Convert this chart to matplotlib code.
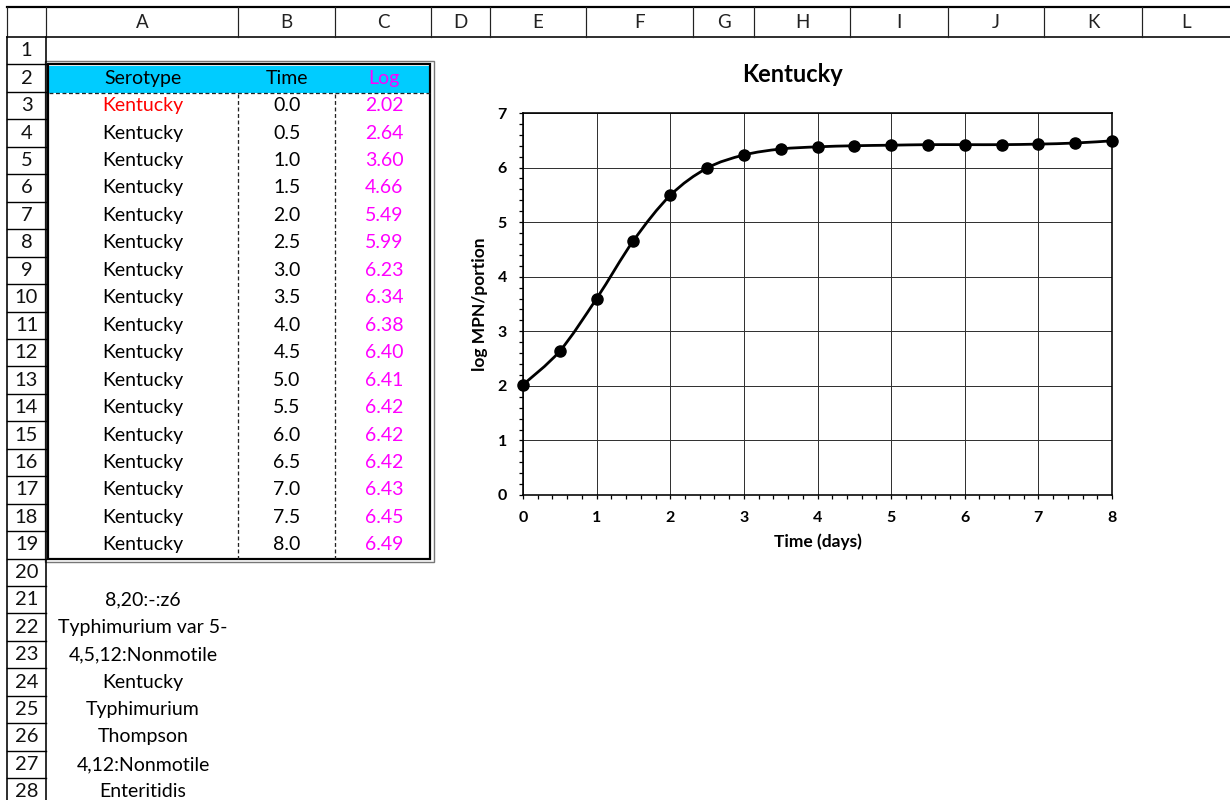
import matplotlib
matplotlib.use("Agg")
import matplotlib.pyplot as plt
from matplotlib.path import Path
from matplotlib.patches import PathPatch, Rectangle
from matplotlib.ticker import MultipleLocator

# ---- dati ----
col_letters = ["A", "B", "C", "D", "E", "F", "G", "H", "I", "J", "K", "L"]
col_edges = [7, 46, 238, 335, 431, 490, 586, 693, 754, 850, 948, 1044, 1142, 1240]
header_labels = ["Serotype", "Time", "Log"]
serotype = ["Kentucky"] * 17
time_days = [0.0, 0.5, 1.0, 1.5, 2.0, 2.5, 3.0, 3.5, 4.0, 4.5, 5.0, 5.5, 6.0, 6.5, 7.0, 7.5, 8.0]
log_mpn = [2.02, 2.64, 3.60, 4.66, 5.49, 5.99, 6.23, 6.34, 6.38, 6.40, 6.41, 6.42, 6.42, 6.42, 6.43, 6.45, 6.49]
other_serotypes = ["8,20:-:z6", "Typhimurium var 5-", "4,5,12:Nonmotile", "Kentucky",
                   "Typhimurium", "Thompson", "4,12:Nonmotile", "Enteritidis"]
chart_title = "Kentucky"

plt.rcParams['font.family'] = ['Lato', 'DejaVu Sans']

W, H = 1230, 800
fig = plt.figure(figsize=(W / 100, H / 100), dpi=100)
fig.patch.set_facecolor('white')

# asse di sfondo in pixel
bg = fig.add_axes([0, 0, 1, 1])
bg.set_xlim(0, W)
bg.set_ylim(H, 0)
bg.axis('off')

PX = 0.72  # 1 pixel in punti
row_top = 37
row_h = 27.45
FS = 14

def row_center(k):
    return row_top + (k - 0.5) * row_h

# intestazione colonne
bg.plot([7, W], [7, 7], color='black', lw=2.2 * PX)
bg.plot([7, W], [37, 37], color='black', lw=1.6 * PX)
for x in col_edges[:-1]:
    bg.plot([x, x], [7, 37], color='#222222', lw=1.2 * PX)
for i, lab in enumerate(col_letters):
    xc = (col_edges[i + 1] + col_edges[i + 2]) / 2 if i < len(col_letters) - 1 else (col_edges[i + 1] + W) / 2
    bg.text(xc, 23, lab, ha='center', va='center', fontsize=13.5, color='#222222')

# numeri di riga
bg.plot([7, 7], [37, H], color='black', lw=1.6 * PX)
bg.plot([46, 46], [37, H], color='black', lw=1.6 * PX)
for k in range(1, 29):
    bg.plot([7, 46], [row_top + k * row_h] * 2, color='black', lw=1.4 * PX)
    bg.text(26.5, row_center(k), str(k), ha='center', va='center', fontsize=14.5, color='#111111')

# tabella
y_tab_top = row_top + row_h
y_tab_bot = row_top + 19 * row_h
bg.add_patch(Rectangle((49, 66), 381, 27, facecolor='#00CCFF', edgecolor='none'))
bg.add_patch(Rectangle((44.5, y_tab_top - 3), 389, y_tab_bot - y_tab_top + 6,
                       fill=False, edgecolor='#777777', lw=1.4 * PX))
bg.add_patch(Rectangle((47.5, y_tab_top), 382, y_tab_bot - y_tab_top,
                       fill=False, edgecolor='black', lw=2.2 * PX))
bg.plot([49, 430], [93, 93], color='#222222', lw=1.3 * PX, ls=(0, (3, 2)))
for x in [238, 335]:
    bg.plot([x, x], [94, y_tab_bot], color='#222222', lw=1.3 * PX, ls=(0, (3, 2)))

col_centers = [143, 287, 384]
yc = row_center(2)
bg.text(col_centers[0], yc, header_labels[0], ha='center', va='center', fontsize=FS, color='black')
bg.text(col_centers[1], yc, header_labels[1], ha='center', va='center', fontsize=FS, color='black')
bg.text(col_centers[2], yc, header_labels[2], ha='center', va='center', fontsize=FS, color='#FF00FF')
for i in range(len(time_days)):
    yc = row_center(i + 3)
    bg.text(col_centers[0], yc, serotype[i], ha='center', va='center', fontsize=FS,
            color='#FF0000' if i == 0 else 'black')
    bg.text(col_centers[1], yc, '%.1f' % time_days[i], ha='center', va='center', fontsize=FS, color='black')
    bg.text(col_centers[2], yc, '%.2f' % log_mpn[i], ha='center', va='center', fontsize=FS, color='#FF00FF')

for i, s in enumerate(other_serotypes):
    bg.text(col_centers[0], row_center(i + 21), s, ha='center', va='center', fontsize=FS, color='black')

# titolo del grafico (centrato sull'area del grafico)
bg.text(792, 75, chart_title, ha='center', va='center', fontsize=17, fontweight='bold')

# grafico
ax = fig.add_axes([523 / W, 1 - 495 / H, 589 / W, 382 / H])
ax.set_xlim(0, 8)
ax.set_ylim(0, 7)
ax.xaxis.set_major_locator(MultipleLocator(1))
ax.yaxis.set_major_locator(MultipleLocator(1))
ax.xaxis.set_minor_locator(MultipleLocator(0.2))
ax.yaxis.set_minor_locator(MultipleLocator(0.2))
ax.grid(True, which='major', color='#333333', lw=1.0 * PX)
ax.set_axisbelow(True)
for sp in ax.spines.values():
    sp.set_linewidth(1.6 * PX)
    sp.set_color('black')
ax.tick_params(which='both', direction='out', length=2.6, width=0.9, pad=9)
for lab in ax.get_xticklabels() + ax.get_yticklabels():
    lab.set_fontweight('bold')
    lab.set_fontsize(11.5)

# curva smussata (Bezier come in Excel)
n = len(time_days)
verts = [(time_days[0], log_mpn[0])]
codes = [Path.MOVETO]
for i in range(n - 1):
    i0 = max(i - 1, 0)
    i3 = min(i + 2, n - 1)
    c1 = (time_days[i] + (time_days[i + 1] - time_days[i0]) / 6,
          log_mpn[i] + (log_mpn[i + 1] - log_mpn[i0]) / 6)
    c2 = (time_days[i + 1] - (time_days[i3] - time_days[i]) / 6,
          log_mpn[i + 1] - (log_mpn[i3] - log_mpn[i]) / 6)
    verts += [c1, c2, (time_days[i + 1], log_mpn[i + 1])]
    codes += [Path.CURVE4] * 3
ax.add_patch(PathPatch(Path(verts, codes), facecolor='none', edgecolor='black',
                       lw=2.0, zorder=3, clip_on=False))
ax.plot(time_days, log_mpn, 'o', color='black', markersize=8, zorder=4, clip_on=False)

ax.set_xlabel('Time (days)', fontsize=12.5, fontweight='bold', labelpad=6)
ax.set_ylabel('log MPN/portion', fontsize=12.5, fontweight='bold', labelpad=7)

fig.savefig('out.png', dpi=100)
